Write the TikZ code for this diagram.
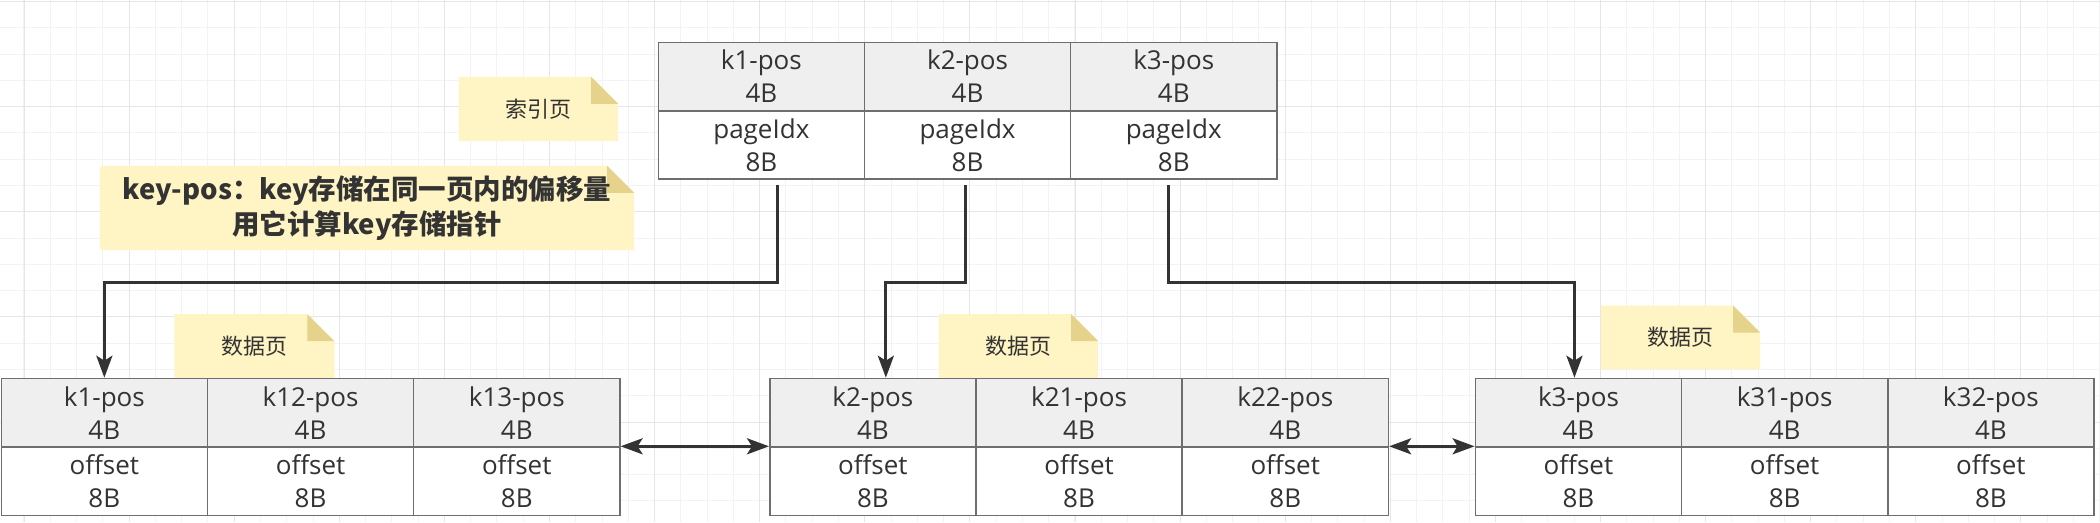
\documentclass[tikz,border=0pt]{standalone}
\usepackage{fontspec}
\setmainfont{Open Sans}
\newfontfamily\cjk{Noto Sans CJK SC}
\usetikzlibrary{arrows.meta,calc}
\definecolor{txt}{HTML}{333333}
\definecolor{cellborder}{HTML}{6E6E6E}
\definecolor{headfill}{HTML}{EFEFEF}
\definecolor{notefill}{HTML}{FFF4C3}
\definecolor{notefold}{HTML}{E5D28B}
\definecolor{gridminor}{HTML}{F3F3F3}
\definecolor{gridmajor}{HTML}{E6E6E6}
\definecolor{linkclr}{HTML}{333333}
\pgfdeclarelayer{gridlayer}
\pgfdeclarelayer{notelayer}
\pgfsetlayers{gridlayer,notelayer,main}
\tikzset{
  cellbase/.style={draw=cellborder, line width=1.5pt, anchor=north west, minimum width=206.2pt,
    inner sep=0pt, align=center, text=txt, font=\fontsize{26}{33}\selectfont},
  idxcell/.style={cellbase, minimum height=68.3pt},
  datacell/.style={cellbase, minimum height=68.6pt},
  headcell/.style={fill=headfill},
  bodycell/.style={fill=white},
  notetext/.style={text=txt, align=center, inner sep=0pt, font=\cjk\fontsize{22}{28}\selectfont},
  keytext/.style={text=txt, align=center, inner sep=0pt, font=\cjk\bfseries\fontsize{27.5}{35}\selectfont},
  link/.style={draw=linkclr, line width=3pt, -{Stealth[length=22pt,width=16pt,inset=5pt]}},
  dlink/.style={draw=linkclr, line width=3pt, {Stealth[length=22pt,width=16pt,inset=5pt]}-{Stealth[length=22pt,width=16pt,inset=5pt]}},
  gridthin/.style={draw=gridminor, line width=1pt},
  gridthick/.style={draw=gridmajor, line width=1pt}
}
\newcommand\mynote[1]{%
  \begin{pgfonlayer}{notelayer}
    \fill[notefill] (#1.north west) -- ([xshift=-27pt]#1.north east) -- ([yshift=-27pt]#1.north east)
      -- (#1.south east) -- (#1.south west) -- cycle;
    \fill[notefold] ([xshift=-27pt]#1.north east) -- ([xshift=-27pt,yshift=-27pt]#1.north east)
      -- ([yshift=-27pt]#1.north east) -- cycle;
  \end{pgfonlayer}}
\begin{document}
\begin{tikzpicture}[x=1pt,y=-1pt]
\useasboundingbox (0,0) rectangle (2100,522);
\begin{pgfonlayer}{gridlayer}
  \fill[white] (0,0) rectangle (2100,522);
  \foreach \i in {0,...,81} \draw[gridthin] ({-2.3+26.275*\i},0) -- ++(0,522);
  \foreach \j in {0,...,20} \draw[gridthin] (0,{1.6+26.275*\j}) -- ++(2100,0);
  \foreach \i in {0,...,20} \draw[gridthick] ({24+105.1*\i},0) -- ++(0,522);
  \foreach \j in {0,...,4} \draw[gridthick] (0,{1.6+105.1*\j}) -- ++(2100,0);
\end{pgfonlayer}

% index page
\node[idxcell,headcell] (ih1) at (657.5,41.7) {k1-pos\\4B};
\node[idxcell,headcell] (ih2) at (863.7,41.7) {k2-pos\\4B};
\node[idxcell,headcell] (ih3) at (1069.9,41.7) {k3-pos\\4B};
\node[idxcell,bodycell] (ib1) at (657.5,110) {pageIdx\\8B};
\node[idxcell,bodycell] (ib2) at (863.7,110) {pageIdx\\8B};
\node[idxcell,bodycell] (ib3) at (1069.9,110) {pageIdx\\8B};

% data page 1
\node[datacell,headcell] (d1h1) at (0.5,377.7) {k1-pos\\4B};
\node[datacell,headcell] (d1h2) at (206.7,377.7) {k12-pos\\4B};
\node[datacell,headcell] (d1h3) at (412.9,377.7) {k13-pos\\4B};
\node[datacell,bodycell] (d1b1) at (0.5,446.3) {offset\\8B};
\node[datacell,bodycell] (d1b2) at (206.7,446.3) {offset\\8B};
\node[datacell,bodycell] (d1b3) at (412.9,446.3) {offset\\8B};

% data page 2
\node[datacell,headcell] (d2h1) at (769,377.7) {k2-pos\\4B};
\node[datacell,headcell] (d2h2) at (975.2,377.7) {k21-pos\\4B};
\node[datacell,headcell] (d2h3) at (1181.4,377.7) {k22-pos\\4B};
\node[datacell,bodycell] (d2b1) at (769,446.3) {offset\\8B};
\node[datacell,bodycell] (d2b2) at (975.2,446.3) {offset\\8B};
\node[datacell,bodycell] (d2b3) at (1181.4,446.3) {offset\\8B};

% data page 3
\node[datacell,headcell] (d3h1) at (1474.6,377.7) {k3-pos\\4B};
\node[datacell,headcell] (d3h2) at (1680.8,377.7) {k31-pos\\4B};
\node[datacell,headcell] (d3h3) at (1887,377.7) {k32-pos\\4B};
\node[datacell,bodycell] (d3b1) at (1474.6,446.3) {offset\\8B};
\node[datacell,bodycell] (d3b2) at (1680.8,446.3) {offset\\8B};
\node[datacell,bodycell] (d3b3) at (1887,446.3) {offset\\8B};

% notes
\node[notetext, minimum width=159pt, minimum height=64pt] (nidx) at (538.5,109) {索引页};
\mynote{nidx}
\node[keytext, minimum width=534pt, minimum height=84pt] (nkey) at (367,208)
  {key-pos：key存储在同一页内的偏移量\\用它计算key存储指针};
\mynote{nkey}
\node[notetext, minimum width=159.5pt, minimum height=63.4pt] (nd1) at (254.3,346) {数据页};
\mynote{nd1}
\node[notetext, minimum width=159pt, minimum height=63.4pt] (nd2) at (1018.5,346) {数据页};
\mynote{nd2}
\node[notetext, minimum width=159pt, minimum height=63.4pt] (nd3) at (1680.5,337.5) {数据页};
\mynote{nd3}

% connectors
\draw[link] ([xshift=16pt,yshift=-5pt]ib1.south) -- ++(0,97.5) -| (d1h1.north);
\draw[link] ([xshift=-2pt,yshift=-5pt]ib2.south) -- ++(0,97.5) -| ([xshift=13pt]d2h1.north);
\draw[link] ([xshift=-5pt,yshift=-5pt]ib3.south) -- ++(0,97.5) -| ([xshift=-4pt]d3h1.north);
\draw[dlink] (d1b3.north east) -- (d2b1.north west);
\draw[dlink] (d2b3.north east) -- (d3b1.north west);
\end{tikzpicture}
\end{document}
